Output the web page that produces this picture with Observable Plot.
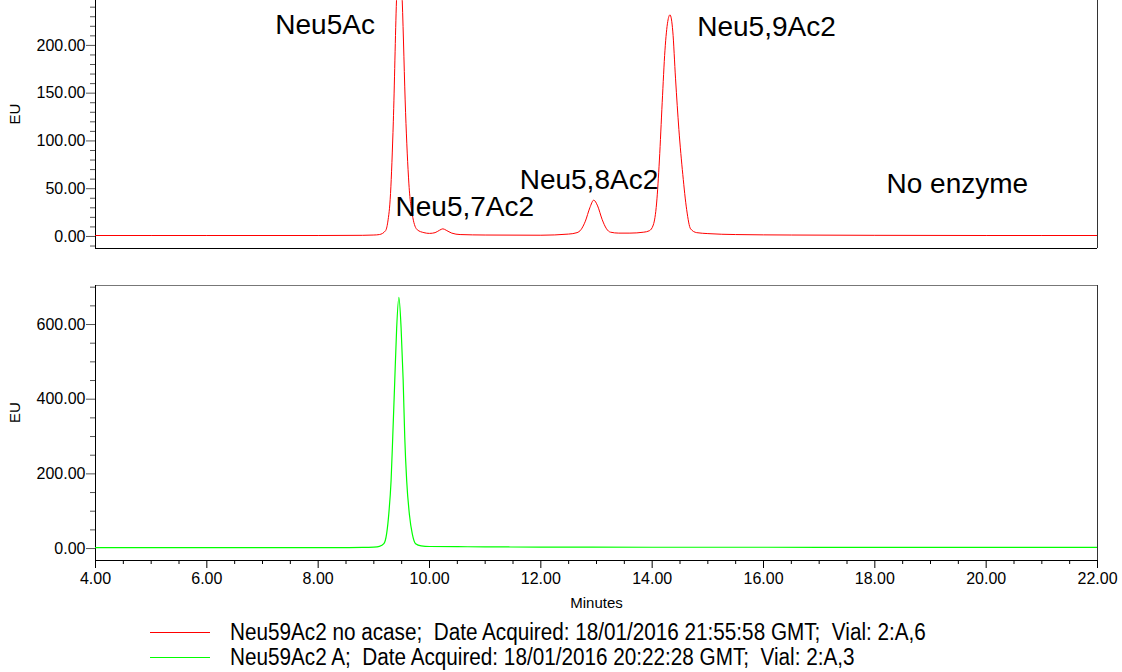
<!DOCTYPE html>
<html><head><meta charset="utf-8">
<script src="https://cdn.jsdelivr.net/npm/d3@7"></script>
<script src="https://cdn.jsdelivr.net/npm/@observablehq/plot@0.6"></script>
<style>
body{margin:0;background:#fff;}
#wrap{position:relative;width:1122px;height:672px;overflow:hidden;font-family:"Liberation Sans",Arial,sans-serif;}
#top,#bot{position:absolute;left:0;}
#top{top:0}
#bot{top:270px}
.leg{position:absolute;left:0;height:25px;width:1122px;}
.sw{position:absolute;left:150px;width:60px;top:12px;height:0;border-top:1px solid;}
.lt{position:absolute;left:230px;top:1px;line-height:23px;font-family:"Liberation Sans",Arial,sans-serif;font-size:23px;white-space:pre;color:#000;transform:scaleX(0.9);transform-origin:0 50%;}
</style></head>
<body><div id="wrap"><div id="top"></div><div id="bot"></div>
<div class="leg" style="top:620px"><div class="sw" style="border-color:#ff0000"></div><div class="lt" id="l1"></div></div>
<div class="leg" style="top:645px"><div class="sw" style="border-color:#00ff00"></div><div class="lt" id="l2"></div></div>
</div>
<script>
// Red trace: "Neu59Ac2 no acase" (top panel)
const redTime = [4.0, 6.0, 8.0, 8.8, 9.0, 9.10, 9.21, 9.25, 9.30, 9.35, 9.407, 9.46, 9.51, 9.57, 9.63, 9.70, 9.78, 9.90, 10.0, 10.1, 10.18, 10.24, 10.30, 10.40, 10.55, 11.0, 12.0, 12.5, 12.65, 12.72, 12.80, 12.88, 12.95, 13.02, 13.10, 13.18, 13.25, 13.40, 13.60, 13.85, 13.95, 14.02, 14.08, 14.13, 14.18, 14.23, 14.28, 14.32, 14.37, 14.42, 14.48, 14.55, 14.62, 14.69, 14.80, 15.0, 15.5, 16.5, 18.0, 20.0, 22.0];
const redEU   = [1.0, 1.0, 1.0, 1.2, 1.5, 2.0, 6, 15, 45, 120, 247, 310, 247, 130, 55, 20, 7, 4, 3.2, 4, 6.5, 8, 6.5, 3.5, 2, 1.5, 1.3, 2.5, 4, 7, 16, 30, 38, 32, 18, 8, 4.5, 3.5, 3.5, 4.5, 6, 12, 35, 80, 140, 195, 225, 232, 215, 165, 112, 65, 28, 8, 4, 3, 2, 1.5, 1.2, 1.0, 1.0];
// Green trace: "Neu59Ac2 A" (bottom panel)
const greenTime = [4.0, 6.0, 8.0, 8.8, 9.0, 9.10, 9.18, 9.23, 9.27, 9.31, 9.34, 9.376, 9.41, 9.45, 9.49, 9.527, 9.555, 9.59, 9.64, 9.69, 9.75, 9.85, 10.0, 10.5, 11.0, 12.0, 14.0, 16.0, 18.0, 20.0, 22.0];
const greenEU   = [2.5, 2.5, 2.5, 3, 4, 6, 13, 40, 95, 182, 300, 450, 590, 673, 590, 450, 300, 182, 90, 40, 13, 7, 5.5, 5, 4.5, 4, 3.5, 3.5, 3, 3, 3];

// Peak annotations (top panel), anchored at text start
const peakNames = ["Neu5Ac", "Neu5,7Ac2", "Neu5,8Ac2", "Neu5,9Ac2", "No enzyme"];
const peakLabelX = [7.23, 9.39, 11.62, 14.81, 18.21];
const peakLabelY = [221, 30.4, 58.6, 219, 54.5];

// Axis ticks
const topMajor = [0, 50, 100, 150, 200];
const topMinor = [-10, 10, 20, 30, 40, 60, 70, 80, 90, 110, 120, 130, 140, 160, 170, 180, 190, 210, 220, 230, 240];
const botMajor = [0, 200, 400, 600];
const botMinor = [50, 100, 150, 250, 300, 350, 450, 500, 550, 650, 700];
const xMajor = [4, 6, 8, 10, 12, 14, 16, 18, 20, 22];
const xMinor = [4.5, 5, 5.5, 6.5, 7, 7.5, 8.5, 9, 9.5, 10.5, 11, 11.5, 12.5, 13, 13.5, 14.5, 15, 15.5, 16.5, 17, 17.5, 18.5, 19, 19.5, 20.5, 21, 21.5];

const xDomain = [4, 22];
const topDomain = [-12.6, 247];
const botDomain = [-32, 704.5];

const legendText = [
  "Neu59Ac2 no acase;  Date Acquired: 18/01/2016 21:55:58 GMT;  Vial: 2:A,6",
  "Neu59Ac2 A;  Date Acquired: 18/01/2016 20:22:28 GMT;  Vial: 2:A,3"
];

const red = redTime.map((t, i) => ({t, eu: redEU[i]}));
const green = greenTime.map((t, i) => ({t, eu: greenEU[i]}));
const labels = peakNames.map((name, i) => ({name, t: peakLabelX[i], eu: peakLabelY[i]}));
const fmt = d => d.toFixed(2);
const font = '"Liberation Sans", Arial, sans-serif';

const topPlot = Plot.plot({
  width: 1122, height: 250,
  marginLeft: 95, marginRight: 25, marginTop: 0, marginBottom: 2,
  x: {domain: xDomain, axis: null},
  y: {domain: topDomain, label: null},
  style: {fontFamily: font, fontSize: "16px", color: "#000", background: "#fff", overflow: "visible"},
  marks: [
    Plot.axisY({ticks: topMajor, tickFormat: fmt, tickSize: 9, tickPadding: 1, stroke: "#555", fill: "#000"}),
    Plot.axisY({ticks: topMinor, tickSize: 5, tickFormat: () => "", stroke: "#555"}),
    Plot.ruleX([xDomain[0]], {stroke: "#000"}),
    Plot.ruleX([xDomain[1]], {stroke: "#333"}),
    Plot.ruleY([topDomain[0]], {stroke: "#000"}),
    Plot.line(red, {x: "t", y: "eu", stroke: "#ff0000", strokeWidth: 1, curve: "monotone-x", clip: true}),
    Plot.text(labels, {x: "t", y: "eu", text: "name", textAnchor: "start", fontSize: 28, fill: "#000"}),
    Plot.text(["EU"], {frameAnchor: "left", dx: -80, rotate: -90, fontSize: 15, fill: "#000"})
  ]
});
document.getElementById("top").appendChild(topPlot);

const botPlot = Plot.plot({
  width: 1122, height: 340,
  marginLeft: 95, marginRight: 25, marginTop: 15, marginBottom: 50,
  x: {domain: xDomain, label: null},
  y: {domain: botDomain, label: null},
  style: {fontFamily: font, fontSize: "16px", color: "#000", background: "#fff", overflow: "visible"},
  marks: [
    Plot.axisY({ticks: botMajor, tickFormat: fmt, tickSize: 9, tickPadding: 1, stroke: "#555", fill: "#000"}),
    Plot.axisY({ticks: botMinor, tickSize: 5, tickFormat: () => "", stroke: "#555"}),
    Plot.axisX({ticks: xMajor, tickFormat: fmt, tickSize: 8, tickPadding: 4, stroke: "#000", fill: "#000"}),
    Plot.axisX({ticks: xMinor, tickSize: 4, tickFormat: () => "", stroke: "#000"}),
    Plot.ruleY([botDomain[1]], {stroke: "#777"}),
    Plot.ruleY([botDomain[0]], {stroke: "#000"}),
    Plot.ruleX([xDomain[0]], {stroke: "#000"}),
    Plot.ruleX([xDomain[1]], {stroke: "#333"}),
    Plot.line(green, {x: "t", y: "eu", stroke: "#00ff00", strokeWidth: 1.2, curve: "monotone-x", clip: true}),
    Plot.text(["EU"], {frameAnchor: "left", dx: -80, rotate: -90, fontSize: 15, fill: "#000"}),
    Plot.text(["Minutes"], {frameAnchor: "bottom", dy: 47, fontSize: 15, fill: "#000"})
  ]
});
document.getElementById("bot").appendChild(botPlot);

document.getElementById("l1").textContent = legendText[0];
document.getElementById("l2").textContent = legendText[1];
</script>
</body></html>
